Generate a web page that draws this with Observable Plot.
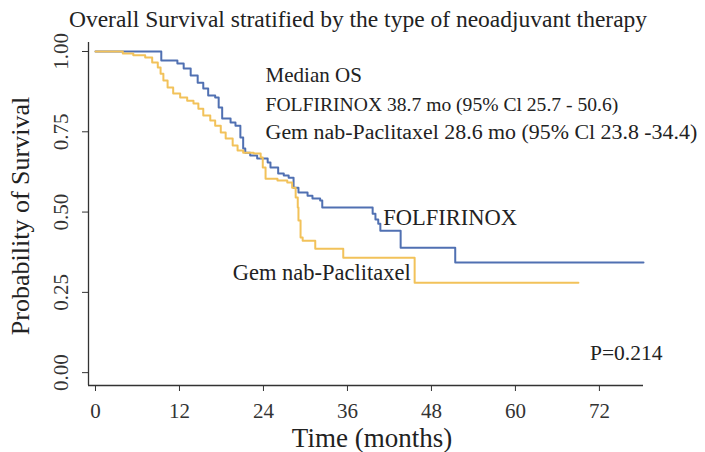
<!DOCTYPE html>
<html>
<head>
<meta charset="utf-8">
<script src="https://cdn.jsdelivr.net/npm/d3@7"></script>
<script src="https://cdn.jsdelivr.net/npm/@observablehq/plot@0.6"></script>
<style>
  html, body { margin: 0; padding: 0; background: #fff; }
  #chart svg { display: block; }
</style>
</head>
<body>
<div id="chart"></div>
<script>
// ---- data ----
const folfTime = [0, 9.4, 11.7, 12.6, 13.6, 14.6, 15.4, 16.1, 17.1, 17.6, 18.1, 19.3, 20.0, 20.7, 21.1, 21.4, 22.1, 23.1, 24.6, 25.0, 26.1, 26.9, 27.6, 28.3, 29.0, 30.3, 31.0, 32.1, 32.4, 39.6, 40.0, 40.4, 40.7, 43.6, 51.4, 78.3];
const folfSurv = [1.0, 0.972, 0.963, 0.947, 0.925, 0.903, 0.885, 0.863, 0.857, 0.826, 0.791, 0.779, 0.769, 0.732, 0.698, 0.685, 0.676, 0.667, 0.654, 0.639, 0.620, 0.614, 0.607, 0.576, 0.561, 0.551, 0.542, 0.536, 0.514, 0.495, 0.477, 0.464, 0.442, 0.389, 0.343, 0.343];
const gemTime = [0, 3.9, 5.4, 7.1, 8.1, 8.9, 9.3, 9.7, 10.3, 11.1, 12.1, 13.1, 14.0, 14.7, 15.4, 16.4, 17.1, 17.9, 18.6, 19.6, 20.3, 21.1, 22.6, 23.6, 23.9, 24.3, 26.0, 27.4, 28.1, 28.6, 28.9, 29.0, 29.3, 29.6, 31.4, 35.4, 45.6, 69.0];
const gemSurv = [1.0, 0.994, 0.988, 0.981, 0.966, 0.950, 0.931, 0.910, 0.888, 0.869, 0.857, 0.847, 0.838, 0.822, 0.801, 0.785, 0.769, 0.748, 0.729, 0.707, 0.692, 0.685, 0.682, 0.670, 0.639, 0.604, 0.598, 0.592, 0.576, 0.545, 0.514, 0.474, 0.421, 0.411, 0.386, 0.358, 0.280, 0.280];

const seriesNames = ["FOLFIRINOX", "Gem nab-Paclitaxel"];
const seriesColors = ["#5070b2", "#f2c25a"];
const xTicks = [0, 12, 24, 36, 48, 60, 72];
const yTicks = [0, 0.25, 0.5, 0.75, 1.0];
const titleText = "Overall Survival stratified by the type of neoadjuvant therapy";
const xLabel = "Time (months)";
const yLabel = "Probability of Survival";
const medianLines = ["Median OS", "FOLFIRINOX 38.7 mo (95% Cl 25.7 - 50.6)", "Gem nab-Paclitaxel 28.6 mo (95% Cl 23.8 -34.4)"];
const medianX = [24.3, 24.3, 24.3];
const medianY = [0.925, 0.835, 0.75];
const curveLabelX = [41.1, 19.6];
const curveLabelY = [0.483, 0.31];
const pText = "P=0.214";
const pX = 81, pY = 0.062;

// ---- build tables ----
const survData = [
  ...folfTime.map((t, i) => ({group: seriesNames[0], time: t, surv: folfSurv[i]})),
  ...gemTime.map((t, i) => ({group: seriesNames[1], time: t, surv: gemSurv[i]}))
];
const medianData = medianLines.map((s, i) => ({text: s, x: medianX[i], y: medianY[i]}));
const curveLabels = seriesNames.map((s, i) => ({text: s, x: curveLabelX[i], y: curveLabelY[i]}));

const xDomain = [-1, 78.3];
const yDomain = [-0.04, 1.028];
const font = "Liberation Serif, Times New Roman, serif";
const axisColor = "#333";
const txt = "#222";
const fmtY = d3.format(".2f");

const chart = Plot.plot({
  width: 705,
  height: 452,
  marginTop: 42,
  marginBottom: 67,
  marginLeft: 88,
  marginRight: 62,
  style: {fontFamily: font, background: "#fff", color: "#333"},
  x: {domain: xDomain},
  y: {domain: yDomain},
  color: {domain: seriesNames, range: seriesColors},
  marks: [
    Plot.axisX({ticks: xTicks, tickSize: 6, text: null, label: null, stroke: axisColor}),
    Plot.text(xTicks, {x: d => d, frameAnchor: "bottom", lineAnchor: "middle", dy: 26, text: d => String(d), fontSize: 21, fill: "#333"}),
    Plot.axisY({ticks: yTicks, tickSize: 6, text: null, label: null, stroke: axisColor}),
    Plot.text(yTicks, {y: d => d, frameAnchor: "left", textAnchor: "middle", dx: -27, rotate: -90, text: d => fmtY(d), fontSize: 21, fill: "#333"}),
    Plot.ruleX([xDomain[0]], {stroke: axisColor, strokeWidth: 1.3}),
    Plot.ruleY([yDomain[0]], {stroke: axisColor, strokeWidth: 1.3}),
    Plot.line(survData, {x: "time", y: "surv", stroke: "group", z: "group", curve: "step-after", strokeWidth: 2}),
    Plot.text(medianData.slice(0, 1), {x: "x", y: "y", text: "text", textAnchor: "start", fontSize: 21, fill: txt}),
    Plot.text(medianData.slice(1, 2), {x: "x", y: "y", text: "text", textAnchor: "start", fontSize: 19.6, fill: txt}),
    Plot.text(medianData.slice(2, 3), {x: "x", y: "y", text: "text", textAnchor: "start", fontSize: 21.9, fill: txt}),
    Plot.text(curveLabels, {x: "x", y: "y", text: "text", textAnchor: "start", fontSize: 22.5, fill: txt}),
    Plot.text([pText], {x: pX, y: pY, text: d => d, textAnchor: "end", fontSize: 21.5, fill: txt}),
    Plot.text([titleText], {frameAnchor: "top", lineAnchor: "middle", dy: -23, dx: -8, text: d => d, fontSize: 23.5, fill: txt}),
    Plot.text([xLabel], {frameAnchor: "bottom", dy: 61, dx: 6, text: d => d, fontSize: 27, fill: txt}),
    Plot.text([yLabel], {frameAnchor: "left", dx: -68, dy: 2, text: d => d, rotate: -90, textAnchor: "middle", fontSize: 26, fill: txt})
  ]
});
document.getElementById("chart").appendChild(chart);
</script>
</body>
</html>
